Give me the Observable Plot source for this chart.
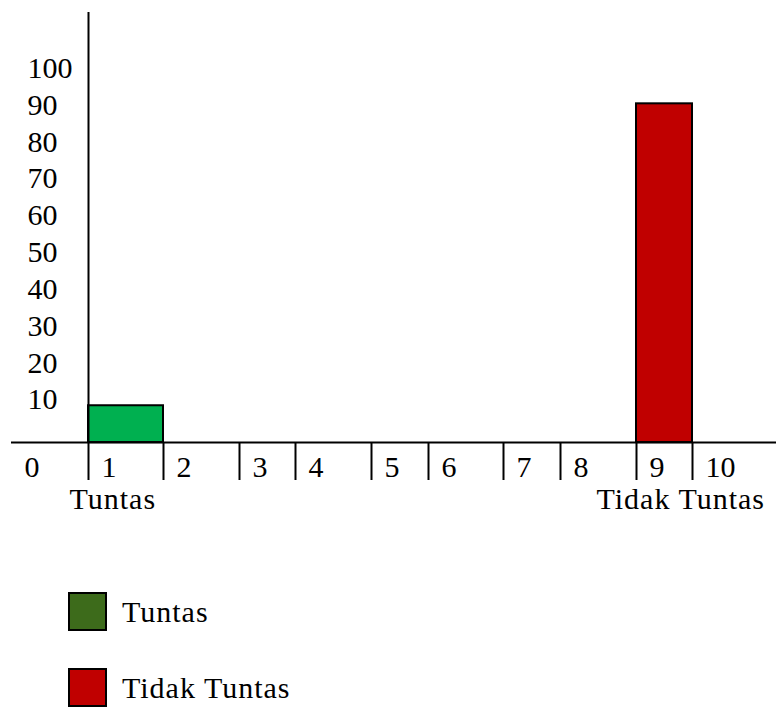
<!DOCTYPE html>
<html>
<head>
<meta charset="utf-8">
<script src="https://cdn.jsdelivr.net/npm/d3@7"></script>
<script src="https://cdn.jsdelivr.net/npm/@observablehq/plot@0.6"></script>
<style>
  html, body { margin: 0; padding: 0; background: #fff; }
  #wrap { position: relative; width: 776px; height: 707px; font-family: "Liberation Serif", "Times New Roman", serif; }
  #chart svg { display: block; }
  .sw { position: absolute; width: 39px; height: 39px; box-sizing: border-box; border: 2px solid #000; }
  .lt { position: absolute; font-size: 30px; line-height: 30px; letter-spacing: 1px; color: #000; white-space: nowrap; }
</style>
</head>
<body>
<div id="wrap">
  <div id="chart"></div>
  <div id="legend"></div>
</div>
<script>
// ---- data ----
const categories = ["Tuntas", "Tidak Tuntas"];
const values = [10, 92];
const cellIndex = [1, 9];
const xTickLabels = ["0", "1", "2", "3", "4", "5", "6", "7", "8", "9", "10"];
const yTickLabels = [10, 20, 30, 40, 50, 60, 70, 80, 90, 100];
const barColors = ["#00B050", "#C00000"];
const legendColors = ["#3D6B1B", "#C00000"];

// ---- layout (scale configuration) ----
const xCells = d3.range(0, xTickLabels.length + 1);
const xEdges = [11, 88, 163, 239, 295, 371, 428, 503, 560, 636, 692, 776];
const yDomain = [-10.3, 116.8];
const font = "'Liberation Serif', 'Times New Roman', serif";
const fs = 30;

const bars = categories.map((c, i) => ({cat: c, idx: cellIndex[i], value: values[i], color: barColors[i]}));

const chart = Plot.plot({
  width: 776,
  height: 540,
  marginTop: 12,
  marginBottom: 60,
  marginLeft: 0,
  marginRight: 0,
  style: {fontFamily: font, background: "#fff", color: "#000"},
  x: {type: "linear", domain: xCells, range: xEdges, axis: null},
  y: {type: "linear", domain: yDomain, axis: null},
  marks: [
    Plot.rect(bars, {x1: "idx", x2: d => d.idx + 1, y1: 0, y2: "value", fill: "color", stroke: "#000", strokeWidth: 2}),
    Plot.ruleY([0], {x1: xCells[0], x2: xCells[xCells.length - 1], stroke: "#000", strokeWidth: 2}),
    Plot.ruleX([1], {stroke: "#000", strokeWidth: 2}),
    Plot.ruleX(xCells.slice(2, xCells.length - 1), {y1: 0, y2: yDomain[0], stroke: "#000", strokeWidth: 2}),
    Plot.text(xTickLabels, {x: (d, i) => i, text: d => d, frameAnchor: "bottom", lineAnchor: "bottom", textAnchor: "start", dx: 13, dy: -4, fontSize: fs, fill: "#000"}),
    Plot.text(yTickLabels, {y: d => d, text: d => String(d), frameAnchor: "left", textAnchor: "start", dx: 27, dy: -6, fontSize: fs, fill: "#000"}),
    Plot.text([bars[0]], {x: "idx", text: "cat", frameAnchor: "bottom", lineAnchor: "bottom", textAnchor: "start", dx: -19, dy: 28, fontSize: fs, fill: "#000"}),
    Plot.text([bars[1]], {x: "idx", text: "cat", frameAnchor: "bottom", lineAnchor: "bottom", textAnchor: "start", dx: -40, dy: 28, fontSize: fs, fill: "#000"})
  ]
});
d3.select(chart).selectAll("text")
  .filter(function() { return categories.includes(this.textContent); })
  .attr("letter-spacing", "1px");
document.getElementById("chart").appendChild(chart);

// ---- legend below the chart ----
const legend = document.getElementById("legend");
categories.forEach((c, i) => {
  const sw = document.createElement("div");
  sw.className = "sw";
  sw.style.left = "68px";
  sw.style.top = (592 + i * 76) + "px";
  sw.style.background = legendColors[i];
  legend.appendChild(sw);
  const t = document.createElement("div");
  t.className = "lt";
  t.style.left = "122px";
  t.style.top = (597 + i * 76) + "px";
  t.textContent = c;
  legend.appendChild(t);
});
</script>
</body>
</html>
